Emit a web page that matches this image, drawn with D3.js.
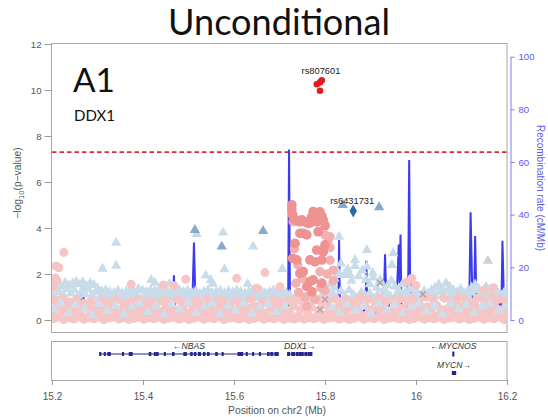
<!DOCTYPE html>
<html><head><meta charset="utf-8">
<script src="https://cdn.jsdelivr.net/npm/d3@7"></script>
<style>body{margin:0;background:#fff}svg{display:block}</style>
</head><body>
<svg id="chart" width="548" height="417"></svg>
<script>
// ---- axis ticks ----
const xTicks = [15.2, 15.4, 15.6, 15.8, 16, 16.2];
const yTicks = [0, 2, 4, 6, 8, 10, 12];
const recombTicks = [0, 20, 40, 60, 80, 100];
const genomeWideLine = 7.3;

// ---- recombination rate (cM/Mb) along chr2, [position Mb, rate] ----
const recombRate = [
  [15.200,2.0],[15.230,1.5],[15.262,3.0],[15.265,10.6],[15.268,16.0],[15.270,4.0],[15.300,1.2],
  [15.350,0.8],[15.400,1.0],[15.440,0.5],[15.465,3.8],[15.468,17.0],[15.471,2.0],[15.478,0.5],
  [15.509,10.0],[15.512,29.4],[15.515,9.0],[15.520,0.5],[15.560,0.3],[15.600,0.4],[15.640,0.3],
  [15.700,0.5],[15.719,5.0],[15.721,64.8],[15.723,8.0],[15.725,1.0],[15.760,0.5],[15.800,0.8],
  [15.829,2.0],[15.831,30.4],[15.833,2.0],[15.860,1.0],[15.889,4.0],[15.891,22.5],[15.893,3.0],
  [15.910,1.5],[15.930,12.6],[15.932,25.0],[15.934,12.0],[15.945,1.0],[15.958,10.0],[15.962,28.7],
  [15.964,14.0],[15.966,32.5],[15.968,5.0],[15.980,2.0],[15.983,16.4],[15.985,60.8],[15.987,16.0],
  [15.992,2.0],[16.030,1.5],[16.060,2.0],[16.100,1.0],[16.117,6.5],[16.120,40.9],[16.124,8.0],
  [16.128,10.0],[16.130,31.9],[16.133,5.0],[16.160,2.0],[16.182,7.6],[16.185,3.0],[16.188,8.7],
  [16.190,30.1],[16.193,9.0],[16.198,3.0],[16.200,2.0]
];

// ---- SNPs, [position Mb, -log10 p] ----
// weak LD with rs6431731 (light blue triangles), upper part of the cloud
const snpBlueFaint = [
  [15.203,1.05],[15.212,1.32],[15.221,1.45],[15.229,1.62],[15.237,1.50],[15.245,1.58],[15.253,1.66],
  [15.261,1.55],[15.268,1.63],[15.276,1.48],[15.284,1.60],[15.292,1.52],[15.300,1.38],[15.309,1.25],
  [15.318,1.30],[15.327,1.22],[15.336,1.18],[15.345,1.28],[15.354,1.15],[15.363,1.24],[15.372,1.30],
  [15.381,1.20],[15.390,1.35],[15.399,1.28],[15.408,1.22],[15.417,1.30],[15.426,1.26],[15.435,1.33],
  [15.444,1.20],[15.453,1.27],[15.462,1.18],[15.471,1.25],[15.480,1.30],[15.489,1.22],[15.498,1.28],
  [15.507,1.20],[15.516,1.26],[15.525,1.14],[15.534,1.24],[15.543,1.30],[15.552,1.18],[15.561,1.22],
  [15.570,1.27],[15.579,1.16],[15.588,1.25],[15.597,1.20],[15.606,1.28],[15.615,1.22],[15.624,1.15],
  [15.633,1.24],[15.642,1.30],[15.651,1.20],[15.660,1.26],[15.669,1.18],[15.678,1.22],[15.687,1.28],
  [15.696,1.20],[15.705,1.25],[15.714,1.18],
  [15.722,1.10],[15.735,0.80],[15.750,0.95],[15.765,0.70],[15.780,0.85],[15.792,1.05],
  [15.803,1.30],[15.812,1.55],[15.821,1.80],[15.828,2.10],[15.835,2.45],[15.842,1.95],[15.850,2.20],
  [15.858,1.70],[15.866,2.35],[15.874,1.90],[15.882,2.15],[15.890,1.75],[15.898,1.55],[15.906,1.85],
  [15.914,1.40],[15.922,1.65],[15.930,1.35],[15.938,1.50],[15.946,1.70],[15.954,1.45],[15.962,1.30],
  [15.970,1.55],[15.978,1.25],[15.986,1.35],[15.994,1.10],[16.002,1.20],[16.010,1.05],[16.018,1.25],
  [16.026,1.15],[16.034,1.30],[16.042,1.40],[16.050,1.55],[16.058,1.35],[16.066,1.60],[16.074,1.45],
  [16.082,1.30],[16.090,1.20],[16.098,1.35],[16.106,1.15],[16.114,1.25],[16.122,1.40],[16.130,1.55],
  [16.138,1.35],[16.146,1.20],[16.154,1.45],[16.162,1.30],[16.170,1.15],[16.178,1.25],[16.186,1.10],
  [16.194,1.20],
  [15.207,0.95],[15.216,1.20],[15.225,1.10],[15.233,1.35],[15.241,1.15],[15.249,1.30],[15.257,1.05],
  [15.265,1.25],[15.272,1.12],[15.280,1.32],[15.288,1.08],[15.296,1.20],[15.305,1.00],[15.314,1.05],
  [15.323,0.95],[15.332,1.02],[15.341,0.92],[15.350,1.00],[15.359,0.95],[15.368,1.05],[15.377,0.98],
  [15.386,1.04],[15.395,0.92],[15.404,1.00],[15.413,1.06],[15.422,0.95],[15.431,1.02],[15.440,0.98],
  [15.449,1.05],[15.458,0.94],[15.467,1.00],[15.476,1.06],[15.485,0.96],[15.494,1.02],[15.503,0.95],
  [15.512,1.04],[15.521,0.98],[15.530,1.00],[15.539,0.94],[15.548,1.05],[15.557,0.98],[15.566,1.02],
  [15.575,0.95],[15.584,1.04],[15.593,0.98],[15.602,1.00],[15.611,0.94],[15.620,1.05],[15.629,0.97],
  [15.638,1.02],[15.647,0.95],[15.656,1.04],[15.665,0.98],[15.674,1.00],[15.683,0.95],[15.692,1.05],
  [15.701,0.98],[15.710,1.02],
  [15.808,1.00],[15.817,1.15],[15.826,0.95],[15.835,1.25],[15.844,1.05],[15.853,1.30],[15.862,1.10],
  [15.871,0.98],[15.880,1.20],[15.889,1.05],[15.898,1.15],[15.907,0.95],[15.916,1.10],[15.925,1.00],
  [15.934,1.18],[15.943,1.05],[15.952,0.95],[15.961,1.12],[15.970,1.00],[15.979,1.08],[15.988,0.95],
  [15.997,1.02],[16.006,0.92],[16.015,1.00],[16.024,0.95],[16.033,1.10],[16.042,1.05],[16.051,1.20],
  [16.060,1.08],[16.069,1.25],[16.078,1.10],[16.087,1.02],[16.096,1.15],[16.105,0.98],[16.114,1.05],
  [16.123,1.18],[16.132,1.30],[16.141,1.10],[16.150,1.00],[16.159,1.15],[16.168,1.05],[16.177,0.95],
  [16.186,1.02],[16.195,0.98],
  [15.341,3.36],[15.341,2.36],[15.311,2.23],[15.518,3.74],[15.576,3.80],[15.642,3.19],[15.579,2.20],
  [15.538,1.93],[15.706,2.22],[15.549,1.74],[15.553,1.58],[15.418,1.74],[15.426,1.62],[15.458,1.57],
  [15.630,1.57],[15.820,1.40],
  [15.831,3.62],[15.892,3.04],[15.866,2.61],[15.892,2.32],[15.844,2.03],[15.829,1.96],[15.855,1.96],
  [15.950,2.90],[15.947,2.39],[15.921,1.74],[15.905,2.05]
];
// weak LD with rs6431731, lower part of the cloud
const snpBlueFaintLow = [
  [15.205,0.45],[15.219,0.75],[15.236,0.30],[15.251,0.65],[15.272,0.50],[15.289,0.20],[15.303,0.70],
  [15.321,0.40],[15.340,0.62],[15.357,0.25],[15.375,0.55],[15.392,0.70],[15.410,0.35],[15.428,0.60],
  [15.447,0.22],[15.463,0.68],[15.481,0.45],[15.500,0.75],[15.517,0.30],[15.535,0.58],[15.552,0.70],
  [15.569,0.25],[15.587,0.62],[15.604,0.40],[15.621,0.72],[15.640,0.28],[15.657,0.55],[15.675,0.68],
  [15.693,0.35],[15.712,0.60],[15.815,0.55],[15.832,0.30],[15.848,0.68],[15.867,0.40],[15.884,0.60],
  [15.901,0.25],[15.918,0.72],[15.936,0.45],[15.953,0.65],[15.971,0.30],[15.989,0.58],[16.006,0.70],
  [16.023,0.38],[16.041,0.62],[16.058,0.25],[16.076,0.70],[16.093,0.48],[16.111,0.65],[16.128,0.30],
  [16.146,0.60],[16.163,0.72],[16.181,0.40],[16.197,0.55]
];
// weak LD with rs807601 (light pink circles)
const snpPinkFaint = [
  [15.204,0.06],[15.215,0.12],[15.226,0.02],[15.237,0.10],[15.248,0.04],[15.259,0.14],[15.270,0.03],
  [15.281,0.09],[15.292,0.05],[15.303,0.12],[15.314,0.02],[15.325,0.08],[15.336,0.13],[15.347,0.04],
  [15.358,0.10],[15.369,0.02],[15.380,0.07],[15.391,0.12],[15.402,0.03],[15.413,0.09],[15.424,0.05],
  [15.435,0.14],[15.446,0.02],[15.457,0.08],[15.468,0.11],[15.479,0.04],[15.490,0.10],[15.501,0.02],
  [15.512,0.07],[15.523,0.13],[15.534,0.03],[15.545,0.09],[15.556,0.05],[15.567,0.12],[15.578,0.02],
  [15.589,0.08],[15.600,0.11],[15.611,0.04],[15.622,0.10],[15.633,0.02],[15.644,0.07],[15.655,0.13],
  [15.666,0.03],[15.677,0.09],[15.688,0.05],[15.699,0.12],[15.710,0.02],[15.721,0.08],[15.732,0.04],
  [15.743,0.11],[15.754,0.03],[15.765,0.09],[15.776,0.05],[15.787,0.12],[15.798,0.02],[15.809,0.08],
  [15.820,0.11],[15.831,0.04],[15.842,0.10],[15.853,0.02],[15.864,0.07],[15.875,0.13],[15.886,0.03],
  [15.897,0.09],[15.908,0.05],[15.919,0.12],[15.930,0.02],[15.941,0.08],[15.952,0.11],[15.963,0.04],
  [15.974,0.10],[15.985,0.02],[15.996,0.07],[16.007,0.13],[16.018,0.03],[16.029,0.09],[16.040,0.05],
  [16.051,0.12],[16.062,0.02],[16.073,0.08],[16.084,0.11],[16.095,0.04],[16.106,0.10],[16.117,0.02],
  [16.128,0.07],[16.139,0.13],[16.150,0.03],[16.161,0.09],[16.172,0.05],[16.183,0.12],[16.194,0.02],
  [15.202,0.25],[15.210,0.55],[15.218,0.15],[15.226,0.40],[15.234,0.70],[15.242,0.20],[15.250,0.48],
  [15.258,0.30],[15.266,0.62],[15.274,0.12],[15.282,0.45],[15.290,0.28],[15.298,0.58],[15.306,0.18],
  [15.314,0.40],[15.322,0.66],[15.330,0.22],[15.338,0.50],[15.346,0.10],[15.354,0.35],[15.362,0.60],
  [15.370,0.25],[15.378,0.45],[15.386,0.15],[15.394,0.55],[15.402,0.32],[15.410,0.70],[15.418,0.20],
  [15.426,0.48],[15.434,0.12],[15.442,0.38],[15.450,0.62],[15.458,0.25],[15.466,0.50],[15.474,0.18],
  [15.482,0.42],[15.490,0.68],[15.498,0.30],[15.506,0.08],[15.514,0.52],[15.522,0.35],[15.530,0.60],
  [15.538,0.22],[15.546,0.45],[15.554,0.15],[15.562,0.58],[15.570,0.30],[15.578,0.72],[15.586,0.20],
  [15.594,0.48],[15.602,0.12],[15.610,0.40],[15.618,0.65],[15.626,0.25],[15.634,0.50],[15.642,0.18],
  [15.650,0.42],[15.658,0.62],[15.666,0.28],[15.674,0.10],[15.682,0.55],[15.690,0.35],[15.698,0.70],
  [15.706,0.22],[15.714,0.45],[15.722,0.30],[15.730,0.60],[15.738,0.15],[15.746,0.45],[15.754,0.75],
  [15.762,0.28],[15.770,0.55],[15.778,0.10],[15.786,0.40],[15.794,0.65],[15.802,0.25],[15.810,0.52],
  [15.818,0.15],[15.826,0.38],[15.834,0.70],[15.842,0.22],[15.850,0.48],[15.858,0.12],[15.866,0.60],
  [15.874,0.35],[15.882,0.75],[15.890,0.20],[15.898,0.45],[15.906,0.08],[15.914,0.55],[15.922,0.30],
  [15.930,0.68],[15.938,0.18],[15.946,0.42],[15.954,0.62],[15.962,0.25],[15.970,0.50],[15.978,0.15],
  [15.986,0.38],[15.994,0.72],[16.002,0.22],[16.010,0.48],[16.018,0.10],[16.026,0.58],[16.034,0.32],
  [16.042,0.65],[16.050,0.20],[16.058,0.45],[16.066,0.12],[16.074,0.55],[16.082,0.35],[16.090,0.70],
  [16.098,0.25],[16.106,0.50],[16.114,0.15],[16.122,0.42],[16.130,0.62],[16.138,0.28],[16.146,0.08],
  [16.154,0.52],[16.162,0.35],[16.170,0.68],[16.178,0.20],[16.186,0.45],[16.194,0.30],
  [15.206,0.85],[15.214,0.62],[15.222,0.95],[15.230,0.40],[15.238,0.78],[15.246,0.58],[15.254,0.90],
  [15.262,0.35],[15.270,0.72],[15.278,0.55],[15.286,0.82],[15.294,0.40],[15.302,0.68],[15.310,0.85],
  [15.318,0.30],[15.326,0.75],[15.334,0.50],[15.342,0.88],[15.350,0.42],[15.358,0.70],[15.366,0.28],
  [15.374,0.80],[15.382,0.52],[15.390,0.90],[15.398,0.38],[15.406,0.65],[15.414,0.82],[15.422,0.45],
  [15.430,0.72],[15.438,0.30],[15.446,0.85],[15.454,0.55],[15.462,0.78],[15.470,0.40],[15.478,0.88],
  [15.486,0.60],[15.494,0.32],[15.502,0.75],[15.510,0.50],[15.518,0.85],[15.526,0.42],[15.534,0.68],
  [15.542,0.90],[15.550,0.35],[15.558,0.78],[15.566,0.55],[15.574,0.88],[15.582,0.40],[15.590,0.70],
  [15.598,0.30],[15.606,0.82],[15.614,0.52],[15.622,0.75],[15.630,0.38],[15.638,0.90],[15.646,0.60],
  [15.654,0.45],[15.662,0.80],[15.670,0.32],[15.678,0.70],[15.686,0.88],[15.694,0.50],[15.702,0.78],
  [15.710,0.40],[15.718,0.85],[15.734,0.92],[15.750,0.85],[15.766,1.00],[15.782,0.88],[15.798,0.95],
  [15.806,0.80],[15.814,0.45],[15.822,0.92],[15.830,0.60],[15.838,0.35],[15.846,0.88],[15.854,0.55],
  [15.862,0.80],[15.870,0.42],[15.878,1.00],[15.886,0.65],[15.894,0.90],[15.902,0.30],[15.910,0.75],
  [15.918,0.95],[15.926,0.50],[15.934,0.82],[15.942,0.38],[15.950,0.85],[15.958,0.60],[15.966,0.92],
  [15.974,0.45],[15.982,0.78],[15.990,0.95],[15.998,0.35],[16.006,0.82],[16.014,0.55],[16.022,1.00],
  [16.030,0.40],[16.038,0.90],[16.046,0.62],[16.054,0.30],[16.062,0.95],[16.070,0.50],[16.078,0.80],
  [16.086,0.42],[16.094,1.00],[16.102,0.58],[16.110,0.85],[16.118,0.35],[16.126,0.72],[16.134,0.95],
  [16.142,0.48],[16.150,0.82],[16.158,0.38],[16.166,1.00],[16.174,0.55],[16.182,0.90],[16.190,0.40],
  [16.198,0.75],
  [15.226,2.94],[15.209,2.35],[15.215,2.27],[15.207,1.83],[15.211,1.71],[15.203,1.45],[15.494,1.77],
  [15.606,1.81],[15.668,2.06],[15.374,1.55],[15.468,1.49],[15.445,1.52],[15.650,1.38],[15.701,1.45],
  [15.991,1.81],[15.980,1.66],[16.000,1.50],[16.150,1.30],[16.170,1.40]
];
// moderate LD with rs807601
const snpPinkMid = [
  [15.730,4.27],[15.800,3.70],[15.811,3.62],[15.807,3.48],[15.811,3.15],[15.789,2.10],[15.818,2.17],
  [15.818,1.70],[15.811,2.60],[15.733,3.10],[15.740,2.40],[15.750,1.80],[15.742,1.20],[15.756,1.00],
  [15.778,0.90],[15.800,1.30],[15.805,2.00],[15.736,1.60],[15.790,1.40],[15.760,0.60]
];
// strong LD with rs807601
const snpPinkHigh = [
  [15.727,5.00],[15.727,4.78],[15.729,4.57],[15.734,3.33],[15.729,2.68],[15.738,2.61],[15.745,4.27],
  [15.756,4.27],[15.763,4.20],[15.767,4.22],[15.774,4.71],[15.785,4.64],[15.793,4.52],[15.796,4.35],
  [15.782,4.27],[15.752,3.77],[15.760,3.70],[15.745,3.77],[15.785,3.84],[15.800,3.26],[15.796,2.97],
  [15.782,3.04],[15.767,2.61],[15.778,2.53],[15.793,2.61],[15.752,2.10],[15.745,2.03],[15.767,1.67],
  [15.774,1.74],[15.760,1.45],[15.771,1.23],[15.793,1.60],[15.731,4.40],[15.740,4.30],[15.749,4.35],
  [15.770,4.45],[15.778,4.60],[15.789,4.70],[15.790,4.45],[15.800,4.10]
];
// moderate LD with rs6431731 (steel blue triangles)
const snpBlueMid = [
  [15.514,3.91],[15.573,3.19],[15.664,3.87],[15.839,5.00],[15.919,4.90]
];
// top signal
const snpTop = [[15.782,10.25],[15.789,9.97],[15.789,10.33],[15.793,10.42]];
const snpSecond = [[15.862,4.74]];
// no LD information
const snpNoLd = [[15.921,1.62],[16.015,1.12],[15.800,0.90],[15.789,0.45],[16.158,2.57]];

const snpLabels = [
  {name: "rs807601", pos: 15.789, logp: 10.42},
  {name: "rs6431731", pos: 15.862, logp: 4.74}
];

// ---- genes ----
const genes = [
  {name: "NBAS", start: 15.305, end: 15.697, strand: -1, row: 0},
  {name: "DDX1", start: 15.718, end: 15.771, strand: 1, row: 0},
  {name: "MYCNOS", start: 16.081, end: 16.083, strand: -1, row: 0},
  {name: "MYCN", start: 16.080, end: 16.087, strand: 1, row: 1}
];
const exons = [
  ["NBAS",15.305,15.307],["NBAS",15.315,15.317],["NBAS",15.323,15.328],["NBAS",15.355,15.357],
  ["NBAS",15.370,15.376],["NBAS",15.414,15.417],["NBAS",15.425,15.427],["NBAS",15.430,15.433],
  ["NBAS",15.447,15.449],["NBAS",15.465,15.468],["NBAS",15.490,15.495],["NBAS",15.505,15.508],
  ["NBAS",15.513,15.516],["NBAS",15.522,15.526],["NBAS",15.533,15.536],["NBAS",15.542,15.545],
  ["NBAS",15.560,15.563],["NBAS",15.574,15.576],["NBAS",15.609,15.614],["NBAS",15.616,15.619],
  ["NBAS",15.627,15.629],["NBAS",15.641,15.643],["NBAS",15.656,15.658],["NBAS",15.674,15.677],
  ["NBAS",15.681,15.685],["NBAS",15.690,15.697],
  ["DDX1",15.718,15.722],["DDX1",15.727,15.733],["DDX1",15.737,15.741],["DDX1",15.744,15.752],
  ["DDX1",15.756,15.760],["DDX1",15.763,15.771],
  ["MYCNOS",16.081,16.083],["MYCN",16.080,16.087]
];

// ---- layout ----
const svg = d3.select("#chart");
const P = {l: 52, r: 507, t: 43, b: 332};
const G = {t: 341, b: 380};
const x = d3.scaleLinear().domain([15.2, 16.2]).range([P.l, P.r]);
const y = d3.scaleLinear().domain([0, 12]).range([320, 44]);
const yRec = d3.scaleLinear().domain([0, 100]).range([320, 56.7]);
const axisFont = "'Liberation Sans', Arial, sans-serif";
const recombBlue = "#3b3bf2";

svg.append("rect").attr("width", 548).attr("height", 417).attr("fill", "#fff");

// title and panel caption
function fitText(sel, width) {
  const w = sel.node().getComputedTextLength();
  const fs = parseFloat(sel.attr("font-size"));
  sel.attr("font-size", fs * width / w);
}
const title = svg.append("text").attr("x", 279).attr("y", 35).attr("text-anchor", "middle")
  .attr("font-family", "Lato, 'Open Sans', sans-serif").attr("font-size", 30).attr("fill", "#111")
  .text("Unconditional");
fitText(title, 222);

// main frame
svg.append("rect").attr("x", P.l - 0.5).attr("y", P.t + 0.5).attr("width", P.r - P.l + 0.5)
  .attr("height", P.b - P.t).attr("fill", "none").attr("stroke", "#a8a8a8");

const a1 = svg.append("text").attr("x", 73).attr("y", 92)
  .attr("font-family", "Lato, 'Open Sans', sans-serif").attr("font-size", 36).attr("fill", "#111").text("A1");
fitText(a1, 42);
const dd = svg.append("text").attr("x", 74).attr("y", 121)
  .attr("font-family", "Lato, 'Open Sans', sans-serif").attr("font-size", 15).attr("fill", "#111").text("DDX1");
fitText(dd, 41);

// left axis
const gl = svg.append("g").attr("transform", `translate(${P.l - 0.5},0)`)
  .call(d3.axisLeft(y).tickValues(yTicks).tickSize(7).tickPadding(3));
gl.select(".domain").remove();
gl.selectAll("line").attr("stroke", "#9a9a9a");
gl.selectAll("text").attr("fill", "#555").attr("font-size", 9.6).attr("font-family", axisFont);

// right axis (recombination)
const gr = svg.append("g").attr("transform", "translate(510.5,0)")
  .call(d3.axisRight(yRec).tickValues(recombTicks).tickSize(4).tickSizeOuter(0).tickPadding(4));
gr.select(".domain").attr("stroke", "#7d7df5");
gr.selectAll("line").attr("stroke", "#7d7df5");
gr.selectAll("text").attr("fill", "#5a5af0").attr("font-size", 9.6).attr("font-family", axisFont);

// axis titles
const yt = svg.append("text").attr("transform", "translate(21,183) rotate(-90)")
  .attr("text-anchor", "middle").attr("font-family", axisFont).attr("font-size", 10.3).attr("fill", "#555");
yt.append("tspan").text("\u2212log");
yt.append("tspan").attr("font-size", 7.5).attr("dy", 2.5).text("10");
yt.append("tspan").attr("dy", -2.5).text("(p\u2212value)");

svg.append("text").attr("transform", "translate(537,188) rotate(90)")
  .attr("text-anchor", "middle").attr("font-family", axisFont).attr("font-size", 10)
  .attr("fill", "#5a5af0").text("Recombination rate (cM/Mb)");

// plot content clipped to the frame
svg.append("clipPath").attr("id", "frameClip").append("rect")
  .attr("x", P.l).attr("y", P.t + 1).attr("width", P.r - P.l).attr("height", P.b - P.t - 1);
const gp = svg.append("g").attr("clip-path", "url(#frameClip)");

// genome-wide significance line
gp.append("line").attr("x1", P.l).attr("x2", P.r).attr("y1", y(genomeWideLine)).attr("y2", y(genomeWideLine))
  .attr("stroke", "#e52b2b").attr("stroke-width", 1.6).attr("stroke-dasharray", "4.5,3");

// recombination rate line
gp.append("path").datum(recombRate)
  .attr("d", d3.line().x(d => x(d[0])).y(d => yRec(d[1])))
  .attr("fill", "none").attr("stroke", recombBlue).attr("stroke-width", 2);

const tri = d3.symbol().type(d3.symbolTriangle).size(46)();
const dia = d3.symbol().type(d3.symbolDiamond).size(48)();

function triangles(data, fill) {
  gp.append("g").selectAll("path").data(data).join("path")
    .attr("d", tri).attr("transform", d => `translate(${x(d[0])},${y(d[1])})`).attr("fill", fill);
}
function circles(data, fill, r) {
  gp.append("g").selectAll("circle").data(data).join("circle")
    .attr("cx", d => x(d[0])).attr("cy", d => y(d[1])).attr("r", r).attr("fill", fill);
}

triangles(snpBlueFaint, "#c9dcea");
circles(snpPinkFaint, "#f6c6c6", 4.5);
triangles(snpBlueFaintLow, "#cddfec");
circles(snpPinkMid, "#f3b0b0", 4.7);
circles(snpPinkHigh, "#ef9292", 4.9);
triangles(snpBlueMid, "#86a9cc");

// SNPs without LD information
gp.append("g").selectAll("path").data(snpNoLd.slice(0, 4)).join("path")
  .attr("d", "M-3,-3L3,3M-3,3L3,-3")
  .attr("transform", d => `translate(${x(d[0])},${y(d[1])})`)
  .attr("stroke", "#a0a0a0").attr("stroke-width", 1.2);
triangles(snpNoLd.slice(4), "#cfcfd6");

circles(snpTop, "#e41a1c", 3.3);
gp.append("g").selectAll("path").data(snpSecond).join("path")
  .attr("d", dia).attr("transform", d => `translate(${x(d[0])},${y(d[1])})`).attr("fill", "#2a6aa8");

// SNP labels
svg.append("g").selectAll("text").data(snpLabels).join("text")
  .attr("x", d => x(d.pos) + (d.name === "rs807601" ? 1 : -1))
  .attr("y", d => y(d.logp) - (d.name === "rs807601" ? 6 : 6.5))
  .attr("text-anchor", "middle").attr("font-family", axisFont).attr("font-size", 9.3)
  .attr("fill", "#1a1a1a").text(d => d.name);

// ---- gene panel ----
svg.append("rect").attr("x", P.l - 0.5).attr("y", G.t + 0.5).attr("width", P.r - P.l + 0.5)
  .attr("height", G.b - G.t).attr("fill", "none").attr("stroke", "#a8a8a8");

const rowY = [354, 373];
const geneColor = "#25258f";
const gg = svg.append("g");
gg.selectAll("line").data(genes.filter(g => g.row === 0 && g.end - g.start > 0.01)).join("line")
  .attr("x1", d => x(d.start)).attr("x2", d => x(d.end))
  .attr("y1", d => rowY[d.row]).attr("y2", d => rowY[d.row])
  .attr("stroke", geneColor).attr("stroke-width", 1);
const geneRow = Object.fromEntries(genes.map(g => [g.name, g.row]));
gg.selectAll("rect").data(exons).join("rect")
  .attr("x", d => x(d[1]) - 0.6).attr("width", d => Math.max(1.2, x(d[2]) - x(d[1]) + 1.2))
  .attr("y", d => rowY[geneRow[d[0]]] - (d[0] === "MYCNOS" ? 2.5 : 2))
  .attr("height", d => d[0] === "MYCNOS" ? 5 : 4)
  .attr("fill", geneColor);
gg.selectAll("text").data(genes).join("text")
  .attr("x", d => x((d.start + d.end) / 2))
  .attr("y", d => rowY[d.row] - 5.5)
  .attr("text-anchor", "middle").attr("font-family", axisFont).attr("font-style", "italic")
  .attr("font-size", 8.6).attr("fill", "#333")
  .text(d => d.strand < 0 ? "\u2190" + d.name : d.name + "\u2192");

// x axis
const gx = svg.append("g").attr("transform", `translate(0,${G.b})`)
  .call(d3.axisBottom(x).tickValues(xTicks).tickSize(5).tickPadding(8)
    .tickFormat(d => d === 16 ? "16" : d3.format(".1f")(d)));
gx.select(".domain").remove();
gx.selectAll("line").attr("stroke", "#9a9a9a");
gx.selectAll("text").attr("fill", "#555").attr("font-size", 10).attr("font-family", axisFont);

svg.append("text").attr("x", 277).attr("y", 414).attr("text-anchor", "middle")
  .attr("font-family", axisFont).attr("font-size", 10.3).attr("fill", "#555")
  .text("Position on chr2 (Mb)");
</script>
</body></html>
